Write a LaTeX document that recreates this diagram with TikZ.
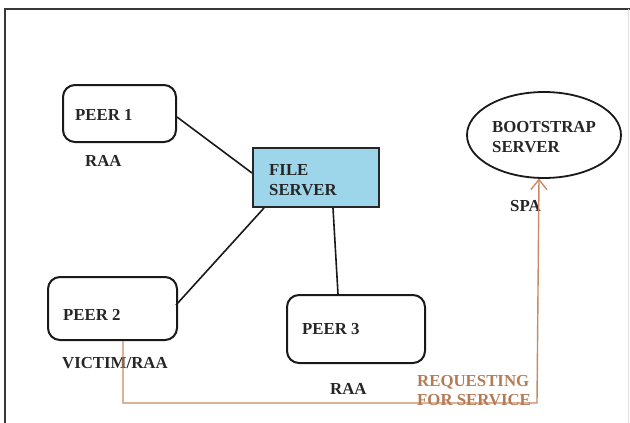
\documentclass[tikz,border=0pt]{standalone}
\usepackage{fontspec}
\setmainfont{Liberation Serif}
\usetikzlibrary{arrows.meta,calc,shapes.geometric}
\definecolor{fsblue}{HTML}{9DD6EA}
\definecolor{reqline}{HTML}{C98A62}
\definecolor{reqtext}{HTML}{B57B57}
\definecolor{framegray}{HTML}{383838}
\tikzset{
  peerbox/.style={draw=black!90, line width=2pt, rounded corners=12pt, inner sep=0pt},
  serverbox/.style={draw=black!85, line width=2pt, fill=fsblue, inner sep=0pt},
  bootbox/.style={draw=black!90, line width=1.8pt, ellipse, inner sep=0pt},
  lbl/.style={font=\bfseries\fontsize{16.8}{20}\selectfont, text=black!85, inner sep=0pt, anchor=base west},
  reqlbl/.style={lbl, text=reqtext},
  link/.style={draw=black!90, line width=1.6pt},
  request/.style={draw=reqline, line width=1.4pt},
}
\begin{document}
\begin{tikzpicture}[x=1pt,y=-1pt]
  \useasboundingbox (0,0) rectangle (630,423);
  % page frame
  \draw[framegray, line width=2.6pt] (5,423) -- (5,9) -- (630,9);
  \draw[black!12, line width=0.8pt] (628,9) -- (628,423);

  % boxes
  \node[peerbox, minimum width=113pt, minimum height=57pt] (p1) at (119.5,113.5) {};
  \node[peerbox, minimum width=129pt, minimum height=63pt] (p2) at (112.5,308.5) {};
  \node[peerbox, minimum width=138pt, minimum height=68pt] (p3) at (356,329) {};
  \node[serverbox, minimum width=126pt, minimum height=59pt] (fs) at (316,177.5) {};
  \node[bootbox, minimum width=154pt, minimum height=86pt] (bs) at (544,135) {};

  % box texts
  \node[lbl] (p1t) at (75,120) {PEER 1};
  \node[lbl] (p2t) at (63,320) {PEER 2};
  \node[lbl] (p3t) at (302,334) {PEER 3};
  \node[lbl] (fst1) at (269,175.5) {FILE};
  \node[lbl] (fst2) at (269,195.5) {SERVER};
  \node[lbl] (bst1) at (492,132) {BOOTSTRAP};
  \node[lbl] (bst2) at (492,152) {SERVER};

  % role captions
  \node[lbl] (p1r) at (85,166) {RAA};
  \node[lbl] (p2r) at (62,368) {VICTIM/RAA};
  \node[lbl] (p3r) at (330,394) {RAA};
  \node[lbl] (bsr) at (510,211) {SPA};

  % links to the file server
  \draw[link] ($(p1.east)+(0,3.5)$) -- ($(fs.west)+(0,-4.5)$);
  \draw[link] ($(p2.east)+(-2,-3.5)$) -- ($(fs.south west)+(12,0)$);
  \draw[link] ($(fs.south)+(17,0)$) -- ($(p3.north)+(-18,0)$);

  % service request from peer 2 to the bootstrap server
  \coordinate (reqstart) at ($(p2.south)+(10.5,0)$);
  \coordinate (reqturn) at (537,403);
  \coordinate (reqend) at (539,178.5);
  \draw[request, -{Straight Barb[length=10pt,width=16pt,line width=1.4pt]}]
    (reqstart) |- (reqturn) -- (reqend);
  \node[reqlbl] (rq1) at (417,386) {REQUESTING};
  \node[reqlbl] (rq2) at (417,405) {FOR SERVICE};
\end{tikzpicture}
\end{document}
